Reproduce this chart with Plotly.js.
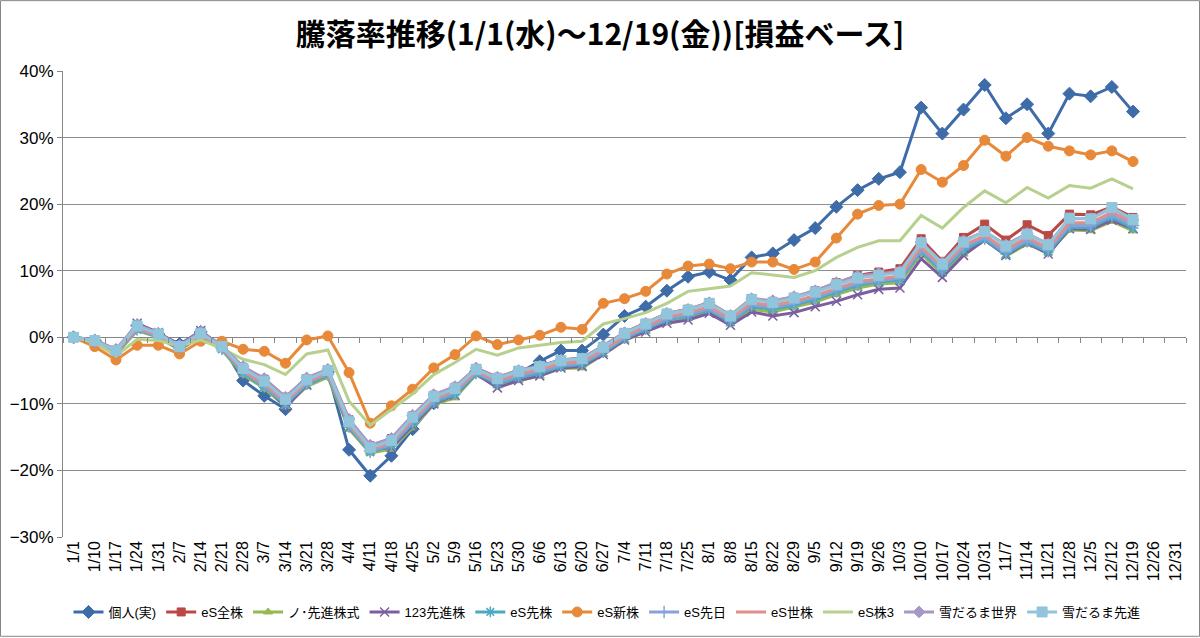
<!DOCTYPE html>
<html>
<head>
<meta charset="utf-8">
<script src="https://cdn.plot.ly/plotly-3.0.1.min.js"></script>
<style>
  html, body { margin: 0; padding: 0; background: #fff; }
  #chart { width: 1200px; height: 638px; }
</style>
</head>
<body>
<div id="chart"></div>
<script>
// week labels on the category axis (the last two have no data yet)
var weeks = ['1/1','1/10','1/17','1/24','1/31','2/7','2/14','2/21','2/28','3/7','3/14','3/21','3/28',
  '4/4','4/11','4/18','4/25','5/2','5/9','5/16','5/23','5/30','6/6','6/13','6/20','6/27',
  '7/4','7/11','7/18','7/25','8/1','8/8','8/15','8/22','8/29','9/5','9/12','9/19','9/26',
  '10/3','10/10','10/17','10/24','10/31','11/7','11/14','11/21','11/28','12/5','12/12','12/19',
  '12/26','12/31'];

// 騰落率 (%), 1/1 .. 12/19
var kojin = [0,-0.5,-2.0,1.8,0.5,-1.0,0.8,-1.2,-6.5,-8.8,-10.8,-6.7,-5.2,-16.9,-20.8,-17.8,-13.8,-9.9,-8.2,-5.1,
  -6.6,-5.4,-3.6,-2.0,-2.0,0.4,3.2,4.6,7.0,9.1,9.8,8.6,12.0,12.6,14.6,16.4,19.6,22.1,23.8,24.8,
  34.5,30.6,34.2,37.9,32.9,35.0,30.6,36.6,36.2,37.6,33.9];
var esZenkabu = [0,-0.4,-1.9,1.6,0.5,-1.3,0.7,-1.3,-4.5,-6.3,-9.0,-6.2,-4.9,-12.4,-16.3,-15.2,-11.8,-8.7,-7.5,-4.7,
  -6.0,-5.0,-4.3,-3.4,-3.1,-1.4,0.7,2.1,3.6,4.2,5.2,3.3,5.8,5.4,6.0,7.0,8.2,9.3,9.8,10.3,
  14.8,11.4,15.0,17.0,14.6,16.9,15.3,18.5,18.4,19.6,18.0];
var noSenshin = [0,-0.9,-2.6,1.0,0.0,-1.9,0.1,-1.9,-5.6,-7.7,-10.4,-7.4,-6.0,-13.8,-17.4,-16.8,-13.6,-10.1,-9.1,-5.6,
  -7.3,-6.5,-5.8,-4.7,-4.6,-2.6,-0.5,0.9,2.2,2.8,3.8,2.0,4.2,3.8,4.5,5.3,6.4,7.4,8.0,8.2,
  12.6,9.5,12.5,15.0,12.2,14.0,12.7,16.1,16.0,17.4,16.0];
var senshin123 = [0,-0.6,-2.2,2.1,0.7,-1.2,1.0,-1.5,-5.0,-7.0,-10.5,-7.2,-5.6,-13.6,-16.8,-16.6,-13.3,-10.0,-8.7,-5.5,
  -7.6,-6.5,-5.8,-4.6,-4.4,-2.6,-0.4,0.8,2.1,2.6,3.6,1.8,3.8,3.2,3.7,4.6,5.4,6.4,7.2,7.4,
  11.8,9.0,12.3,14.6,12.3,14.2,12.5,16.3,16.2,17.6,16.3];
var esSenkabu = [0,-0.8,-2.4,1.1,0.1,-1.8,0.2,-1.8,-5.4,-7.5,-10.1,-7.1,-5.7,-13.5,-17.3,-16.3,-13.0,-9.8,-8.6,-5.5,
  -7.0,-6.1,-5.4,-4.4,-4.1,-2.3,-0.2,1.2,2.6,3.2,4.1,2.3,4.6,4.2,4.8,5.7,6.8,7.8,8.3,8.6,
  12.9,9.9,13.1,14.7,12.5,14.3,12.8,16.5,16.5,18.0,16.4];
var esShinkabu = [0,-1.4,-3.4,-1.2,-1.2,-2.5,-0.6,-0.6,-1.8,-2.1,-3.9,-0.4,0.2,-5.3,-12.9,-10.3,-7.8,-4.6,-2.6,0.2,
  -1.1,-0.4,0.3,1.5,1.2,5.1,5.8,6.9,9.5,10.7,11.0,10.3,11.3,11.3,10.2,11.3,14.9,18.5,19.8,20.0,
  25.2,23.3,25.8,29.6,27.2,30.0,28.7,28.0,27.4,28.0,26.4];
var esSenbi = [0,-0.7,-2.3,1.2,0.2,-1.7,0.3,-1.7,-5.2,-7.3,-9.9,-6.9,-5.5,-13.3,-17.1,-16.1,-12.7,-9.5,-8.3,-5.3,
  -6.8,-5.8,-5.1,-4.2,-3.9,-2.1,0.0,1.4,2.8,3.4,4.3,2.5,4.9,4.5,5.1,6.0,7.1,8.1,8.5,8.9,
  13.2,10.2,13.5,15.0,12.8,14.6,13.1,16.8,16.8,18.3,16.8];
var esSekai = [0,-0.6,-2.2,1.4,0.3,-1.6,0.4,-1.6,-5.0,-7.0,-9.6,-6.7,-5.3,-13.0,-16.9,-15.8,-12.4,-9.2,-8.0,-5.1,
  -6.5,-5.5,-4.8,-3.9,-3.6,-1.9,0.2,1.6,3.1,3.7,4.6,2.8,5.2,4.8,5.4,6.3,7.4,8.4,8.8,9.2,
  13.6,10.6,13.8,15.3,13.2,15.0,13.4,17.2,17.2,18.8,17.2];
var esKabu3 = [0,-0.8,-2.8,-0.3,-0.5,-1.3,-0.4,-1.7,-3.3,-4.1,-5.6,-2.5,-1.9,-9.6,-13.2,-10.9,-8.5,-5.6,-3.8,-1.8,
  -2.7,-1.6,-1.2,-0.8,-0.6,2.0,2.8,3.7,5.1,6.9,7.3,7.7,9.7,9.4,9.0,10.0,12.0,13.5,14.5,14.5,
  18.3,16.4,19.5,22.0,20.2,22.5,20.9,22.8,22.4,23.8,22.3];
var yukiSekai = [0,-0.4,-1.8,1.9,0.6,-1.2,0.8,-1.3,-4.4,-6.2,-9.0,-6.1,-4.8,-12.3,-16.2,-15.2,-11.7,-8.6,-7.4,-4.6,
  -6.0,-5.0,-4.3,-3.4,-3.2,-1.3,0.7,2.1,3.6,4.2,5.2,3.3,5.8,5.5,6.1,7.0,8.2,9.2,9.6,9.9,
  14.3,11.2,14.5,15.9,13.9,15.6,14.0,17.8,17.8,19.4,17.6];
var yukiSenshin = [0,-0.5,-2.0,1.7,0.5,-1.4,0.6,-1.4,-4.7,-6.6,-9.3,-6.4,-5.0,-12.7,-16.6,-15.5,-12.0,-8.9,-7.7,-4.8,
  -6.2,-5.1,-4.4,-3.5,-3.2,-1.5,0.6,2.0,3.5,4.1,5.1,3.2,5.7,5.2,5.9,6.8,7.9,8.9,9.3,9.7,
  14.2,11.0,14.3,15.9,13.7,15.5,13.9,17.9,17.8,19.5,17.7];

var xs = weeks.slice(0, kojin.length);

function line(name, y, color, symbol, size, extra) {
  var t = {
    type: 'scatter', mode: symbol ? 'lines+markers' : 'lines',
    name: name, x: xs, y: y,
    line: { color: color, width: 3 },
    hoverinfo: 'name+y'
  };
  if (symbol) {
    t.marker = { symbol: symbol, size: size, color: color, line: { color: color, width: 1 } };
  }
  if (extra) for (var k in extra) t[k] = extra[k];
  return t;
}

var data = [
  line('個人(実)', kojin, '#3E6CA9', 'diamond', 10),
  line('eS全株', esZenkabu, '#BA4845', 'square', 8),
  line('ノ･先進株式', noSenshin, '#97B853', 'triangle-up', 8),
  line('123先進株', senshin123, '#7B5E9F', 'x-thin-open', 9),
  line('eS先株', esSenkabu, '#4AA9C3', 'asterisk-open', 9),
  line('eS新株', esShinkabu, '#E8893A', 'circle', 10),
  line('eS先日', esSenbi, '#86A3D8', 'cross-thin-open', 9),
  line('eS世株', esSekai, '#E18E8B', null),
  line('eS株3', esKabu3, '#B6D08E', null),
  line('雪だるま世界', yukiSekai, '#A797C6', 'diamond', 9),
  // drawn on the overlaid x2 so that axis carries the tick marks on the 0% line
  line('雪だるま先進', yukiSenshin, '#91C5DB', 'square', 10, { xaxis: 'x2' })
];
data[3].marker.line.width = 1.5;
data[4].marker.line.width = 1.5;
data[6].marker.line.width = 1.5;

// paper coordinates of the outer chart border
var L = 63, R = 14, T = 71, B = 100, W = 1200, H = 638;
var pw = W - L - R, ph = H - T - B;

var layout = {
  width: W, height: H,
  margin: { l: L, r: R, t: T, b: B, pad: 0 },
  paper_bgcolor: '#fff', plot_bgcolor: '#fff',
  font: { family: 'Liberation Sans, "Noto Sans CJK JP", sans-serif', size: 13, color: '#000' },
  title: {
    text: '騰落率推移(1/1(水)～12/19(金))[損益ベース]',
    font: { family: '"Noto Sans CJK JP", sans-serif', size: 30, weight: 'bold', color: '#000' },
    x: 0.5, xref: 'container', xanchor: 'center', y: 1 - 34 / H, yanchor: 'middle'
  },
  xaxis: {
    type: 'category', categoryorder: 'array', categoryarray: weeks,
    range: [-0.5, weeks.length - 0.5],
    tickangle: -90, ticks: '', showline: false, showgrid: false, zeroline: false,
    tickfont: { size: 16 }, fixedrange: true
  },
  xaxis2: {
    type: 'category', categoryorder: 'array', categoryarray: weeks,
    range: [-0.5, weeks.length - 0.5],
    overlaying: 'x', anchor: 'free', position: 30 / 70,
    showticklabels: false, showgrid: false, showline: false, zeroline: false,
    ticks: 'outside', ticklen: 5, tickcolor: '#868686', tickson: 'boundaries'
  },
  yaxis: {
    range: [-30, 40], dtick: 10, ticksuffix: '%',
    showgrid: true, gridcolor: '#8C8C8C', gridwidth: 1,
    zeroline: true, zerolinecolor: '#868686', zerolinewidth: 1,
    showline: true, linecolor: '#868686', linewidth: 1,
    ticks: 'outside', ticklen: 5, tickcolor: '#868686',
    tickfont: { size: 17 }, fixedrange: true
  },
  legend: {
    orientation: 'h', x: (607 - L) / pw, xanchor: 'center', y: -(612 - (H - B)) / ph, yanchor: 'middle',
    font: { size: 13 }, itemwidth: 30, tracegroupgap: 0
  },
  shapes: [{
    type: 'rect', xref: 'paper', yref: 'paper',
    x0: (0.5 - L) / pw, x1: (W - 0.5 - L) / pw,
    y0: -(B - 0.5) / ph, y1: (ph + T - 0.5) / ph,
    line: { color: '#868686', width: 1 }
  }],
  showlegend: true
};

Plotly.newPlot('chart', data, layout, { displayModeBar: false, staticPlot: true });
</script>
</body>
</html>
